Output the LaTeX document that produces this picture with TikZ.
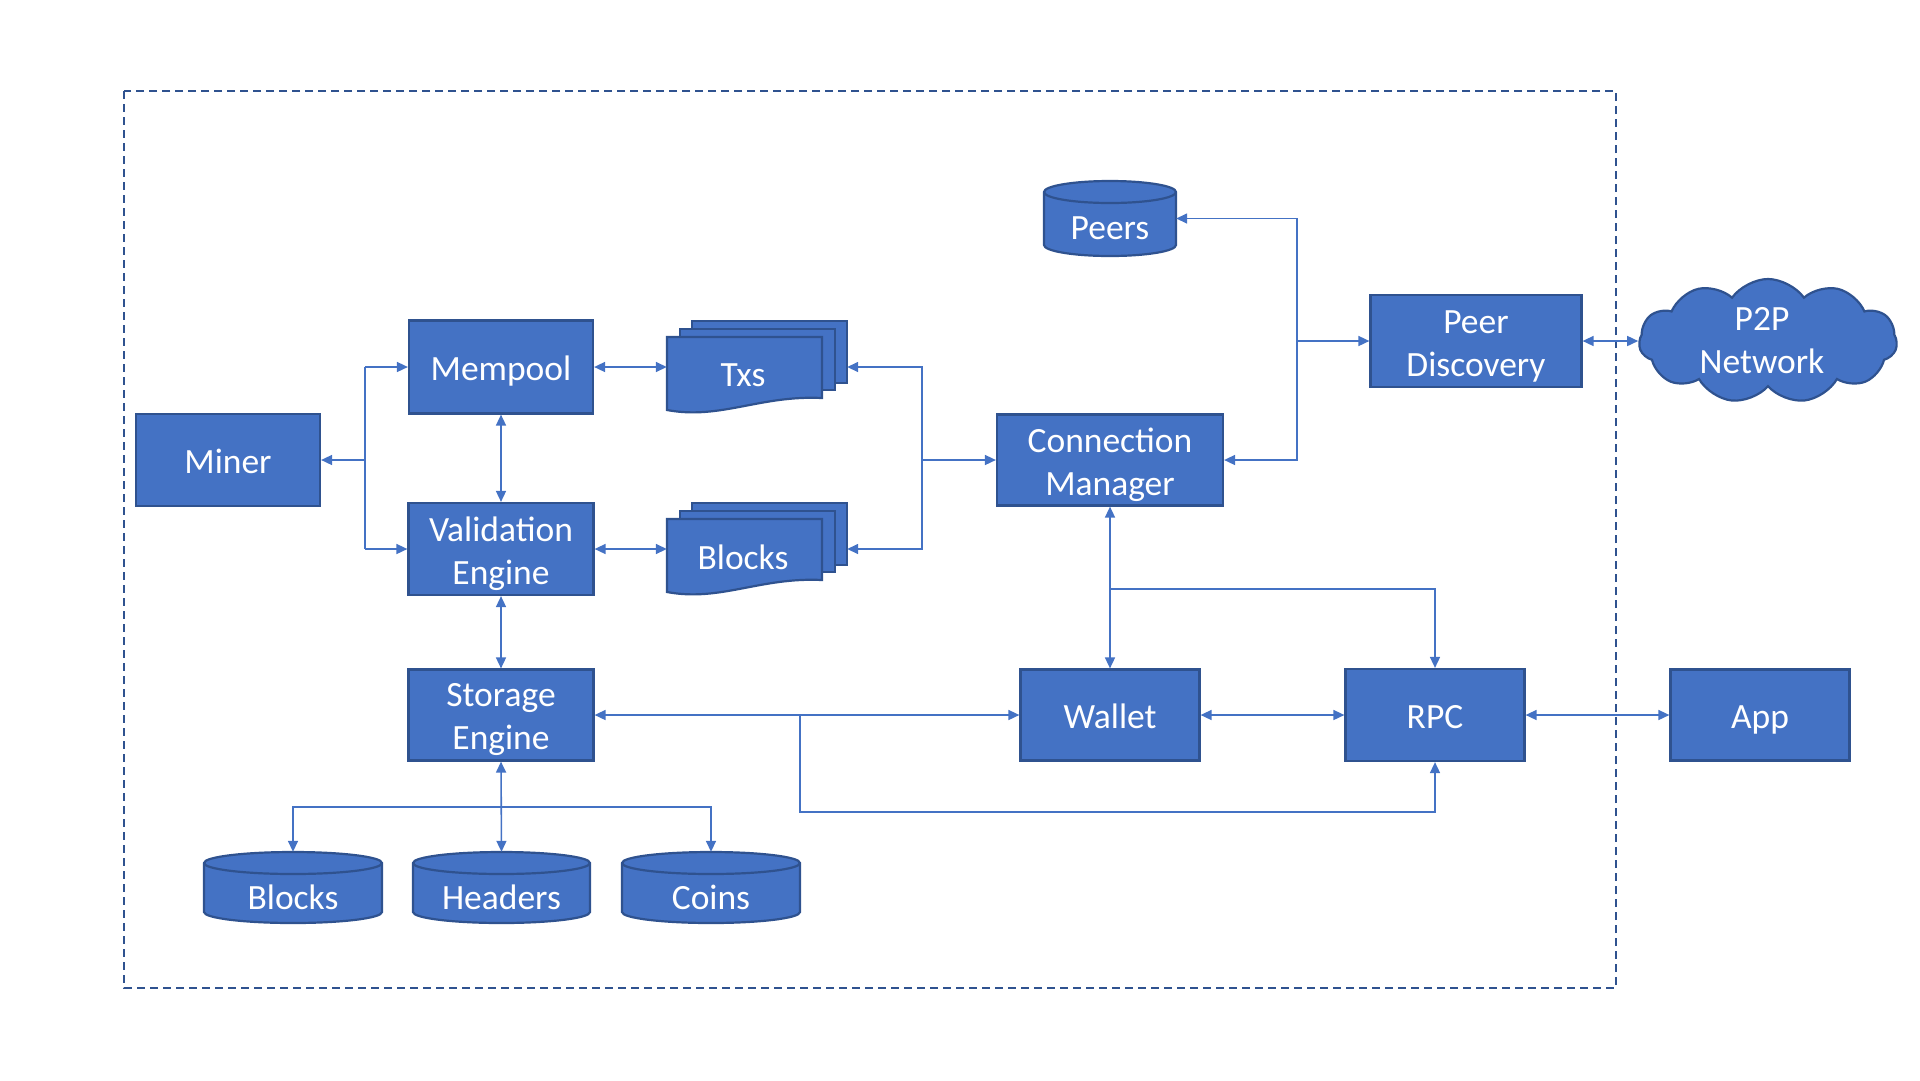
\documentclass[tikz,border=0pt]{standalone}
\usepackage{fontspec}
\setmainfont{Carlito}
\usetikzlibrary{arrows.meta,shapes.symbols}
\definecolor{mainblue}{HTML}{4472C4}
\definecolor{edgeblue}{HTML}{2F528F}
\newcommand{\mydbcyl}[7]{%
  \pgfmathsetmacro\cylhw{(#4-#2)/2}%
  \path[fill=mainblue,draw=edgeblue,line width=2.2pt] (#2,#3+11) -- (#2,#5-11)
    arc[start angle=180,end angle=360,x radius=\cylhw pt,y radius=11pt]
    -- (#4,#3+11)
    arc[start angle=0,end angle=180,x radius=\cylhw pt,y radius=11pt] -- cycle;
  \draw[draw=edgeblue,line width=2.2pt] (#2,#3+11)
    arc[start angle=180,end angle=360,x radius=\cylhw pt,y radius=11pt];
  \node[inner sep=0pt,minimum width={(#4-#2)*1pt},minimum height={(#5-#3)*1pt}] (#1) at ({(#2+#4)/2},{(#3+#5)/2}) {};
  \node[txt] at ({(#2+#4)/2},#7) {#6};
}
\newcommand{\mydocstack}[4]{% name, x-left of front, y-top of back, text
  \pgfmathsetmacro\dl{#2}\pgfmathsetmacro\dt{#3}%
  \path[docpage] (\dl+25,\dt) rectangle (\dl+180,\dt+62);
  \path[docpage] (\dl+13,\dt+8) rectangle (\dl+168,\dt+69);
  \path[docpage] (\dl,\dt+16) -- (\dl+155,\dt+16) -- (\dl+155,\dt+77)
     .. controls (\dl+93,\dt+74) and (\dl+53,\dt+99) .. (\dl,\dt+89) -- cycle;
  \node[inner sep=0pt,minimum width=180pt,minimum height=92pt] (#1) at (\dl+90,\dt+46) {};
  \node[txt] at (\dl+76,\dt+54) {#4};
}
\newcommand{\myboxtext}[3][]{\node[txt,#1] at ([yshift=-5pt]#2.center) {#3};}
\tikzset{
  txt/.style={text=white,font=\fontsize{35.5pt}{43pt}\selectfont,align=center},
  oneline/.style={text height=26pt,text depth=9pt},
  box/.style={draw=edgeblue,fill=mainblue,line width=2.2pt,inner sep=0pt},
  docpage/.style={fill=mainblue,draw=edgeblue,line width=2.2pt},
  conn/.style={draw=mainblue,line width=1.6pt},
  frame/.style={draw=edgeblue,line width=2pt,dash pattern=on 8pt off 5pt},
  >={Triangle[length=11pt,width=10pt]}
}
\begin{document}
\begin{tikzpicture}[x=1pt,y=-1pt]
\useasboundingbox (0,0) rectangle (1920,1080);
\draw[frame] (124,91) rectangle (1616,988);

% boxes
\node[box,minimum width=184pt,minimum height=92pt] (miner) at (228,460) {};
\node[box,minimum width=184pt,minimum height=93pt] (mempool) at (501,367) {};
\node[box,minimum width=185pt,minimum height=92pt] (valid) at (501,549) {};
\node[box,minimum width=185pt,minimum height=91pt] (storage) at (501,715) {};
\node[box,minimum width=226pt,minimum height=91pt] (cm) at (1110,460) {};
\node[box,minimum width=211pt,minimum height=92pt] (pd) at (1476,341) {};
\node[box,minimum width=179pt,minimum height=91pt] (wallet) at (1110,715) {};
\node[box,minimum width=179pt,minimum height=92pt] (rpc) at (1435,715) {};
\node[box,minimum width=179pt,minimum height=91pt] (app) at (1760,715) {};
\myboxtext[oneline]{miner}{Miner}
\myboxtext[oneline]{mempool}{Mempool}
\myboxtext{valid}{Validation\\Engine}
\myboxtext{storage}{Storage\\Engine}
\myboxtext{cm}{Connection\\Manager}
\myboxtext{pd}{Peer\\Discovery}
\myboxtext[oneline]{wallet}{Wallet}
\myboxtext[oneline]{rpc}{RPC}
\myboxtext[oneline]{app}{App}

% cloud
\node[cloud,cloud puffs=11,cloud puff arc=110,aspect=2.1,draw=edgeblue,fill=mainblue,line width=2.2pt,
      inner sep=0pt,minimum width=258pt,minimum height=124pt] (p2p) at (1768,341) {};
\node[txt] at (1762,341) {P2P\\Network};

% documents
\mydocstack{txs}{667}{321}{Txs}
\mydocstack{blk}{667}{503}{Blocks}

% databases
\mydbcyl{peers}{1044}{181}{1176}{256}{Peers}{228}
\mydbcyl{cblk}{204}{852}{382}{923}{Blocks}{897}
\mydbcyl{hdr}{413}{852}{590}{923}{Headers}{897}
\mydbcyl{coins}{622}{852}{800}{923}{Coins}{897}

% junctions
\coordinate (jm) at (365,460);
\coordinate (jmt) at (365,367);
\coordinate (jmb) at (365,549);
\coordinate (jd) at (922,460);
\coordinate (jp) at (1297,341);
\coordinate (jw) at (1110,589);
\coordinate (js) at (800,715);
\coordinate (jsd) at (800,812);
\coordinate (jst) at (501,807);

% connectors
\draw[conn,<-] (miner.east) -- (jm);
\draw[conn] (jmt) -- (jmb);
\draw[conn,->] (jmt) -- (mempool.west);
\draw[conn,->] (jmb) -- (valid.west);
\draw[conn,<->] (mempool.east) -- (txs.west);
\draw[conn,<->] (valid.east) -- (blk.west);
\draw[conn,<->] (mempool.south) -- (valid.north);
\draw[conn,<->] (valid.south) -- (storage.north);
\draw[conn,<->] (txs.east) -| (jd) |- (blk.east);
\draw[conn,->] (jd) -- (cm.west);
\draw[conn,<->] (cm.east) -| (jp) |- (peers.east);
\draw[conn,->] (jp) -- (pd.west);
\draw[conn,<->] (pd.east) -- (p2p.west);
\draw[conn,<->] (cm.south) -- (wallet.north);
\draw[conn,->] (jw) -| (rpc.north);
\draw[conn,<->] (storage.east) -- (wallet.west);
\draw[conn,->] (js) -- (jsd) -| (rpc.south);
\draw[conn,<->] (wallet.east) -- (rpc.west);
\draw[conn,<->] (rpc.east) -- (app.west);
\draw[conn,<->] (storage.south) -- (hdr.north);
\draw[conn,->] (jst) -| (cblk.north);
\draw[conn,->] (jst) -| (coins.north);
\end{tikzpicture}
\end{document}
